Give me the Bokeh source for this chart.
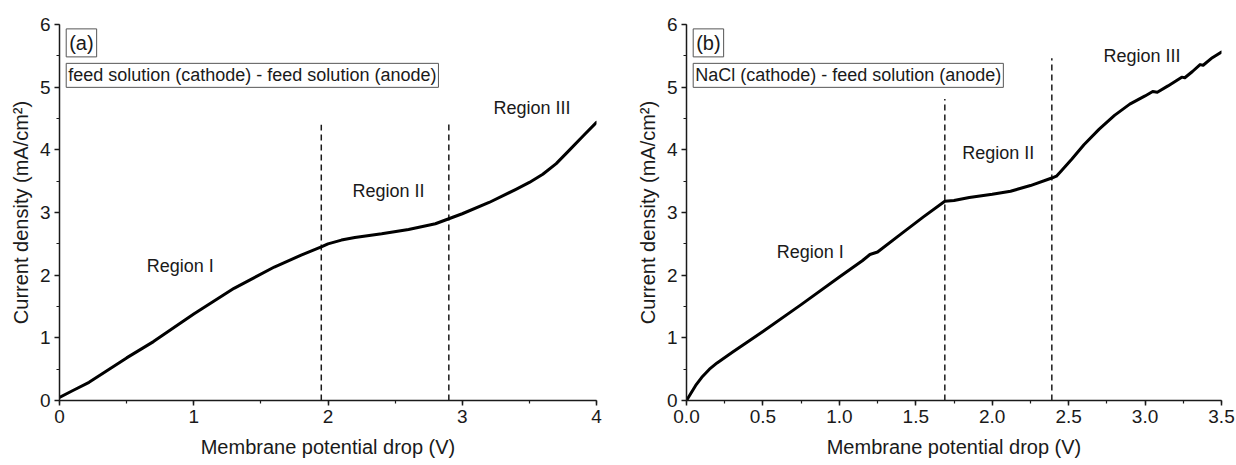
from bokeh.plotting import figure
from bokeh.layouts import row
from bokeh.models import Label, SingleIntervalTicker, NumeralTickFormatter, Range1d
from bokeh.embed import file_html
from bokeh.resources import INLINE

FONT = "Liberation Sans"
INK = "#1a1a1a"

# (a) feed solution (cathode) - feed solution (anode)
volt_a = [0.0, 0.1, 0.22, 0.35, 0.5, 0.7, 1.0, 1.3, 1.6, 1.8, 1.95, 2.0, 2.1, 2.2, 2.4,
          2.6, 2.8, 2.9, 3.0, 3.2, 3.4, 3.5, 3.6, 3.7, 3.8, 3.9, 4.0]
current_a = [0.05, 0.16, 0.29, 0.47, 0.68, 0.94, 1.38, 1.79, 2.13, 2.32, 2.45, 2.50, 2.56, 2.6, 2.66,
             2.73, 2.82, 2.9, 2.98, 3.16, 3.37, 3.48, 3.61, 3.78, 4.0, 4.22, 4.44]
bounds_a = [1.95, 2.90]
bound_tops_a = [4.40, 4.47]
regions_a = ["Region I", "Region II", "Region III"]
region_x_a = [0.90, 2.45, 3.52]
region_y_a = [2.15, 3.34, 4.66]

# (b) NaCl (cathode) - feed solution (anode)
volt_b = [0.0, 0.03, 0.06, 0.1, 0.15, 0.2, 0.3, 0.5, 0.75, 1.0, 1.15, 1.2, 1.25, 1.4, 1.55,
          1.69, 1.75, 1.85, 2.0, 2.12, 2.25, 2.39, 2.42, 2.45, 2.52, 2.6, 2.7, 2.8, 2.9, 3.0,
          3.05, 3.08, 3.15, 3.24, 3.26, 3.31, 3.36, 3.38, 3.44, 3.5]
current_b = [0.0, 0.12, 0.24, 0.37, 0.5, 0.6, 0.77, 1.1, 1.53, 1.97, 2.23, 2.33, 2.37, 2.65, 2.93,
             3.18, 3.19, 3.24, 3.29, 3.34, 3.43, 3.55, 3.58, 3.66, 3.85, 4.08, 4.33, 4.55, 4.73, 4.86,
             4.93, 4.92, 5.02, 5.16, 5.15, 5.25, 5.36, 5.35, 5.47, 5.56]
bounds_b = [1.69, 2.39]
bound_tops_b = [4.81, 5.46]
regions_b = ["Region I", "Region II", "Region III"]
region_x_b = [0.81, 2.04, 2.98]
region_y_b = [2.37, 3.95, 5.49]


def panel(volt, current, bounds, tops, regions, rx, ry, xmax, xstep, xfmt,
          tag, caption, frame_w, border_r):
    p = figure(frame_width=frame_w, frame_height=376,
               min_border_left=59, min_border_right=border_r,
               min_border_top=24, min_border_bottom=65,
               x_range=Range1d(0, xmax), y_range=Range1d(0, 6),
               output_backend="svg", toolbar_location=None)
    p.outline_line_color = None
    p.grid.visible = False
    p.background_fill_color = "white"

    p.xaxis.ticker = SingleIntervalTicker(interval=xstep, num_minor_ticks=2)
    p.yaxis.ticker = SingleIntervalTicker(interval=1, num_minor_ticks=2)
    p.xaxis.formatter = NumeralTickFormatter(format=xfmt)
    p.yaxis.formatter = NumeralTickFormatter(format="0")
    for ax in (p.xaxis[0], p.yaxis[0]):
        ax.axis_line_color = INK
        ax.axis_line_width = 1.5
        ax.major_tick_line_color = INK
        ax.major_tick_line_width = 1.5
        ax.minor_tick_line_color = INK
        ax.minor_tick_line_width = 1.2
        ax.major_tick_in = 0
        ax.major_tick_out = 5
        ax.minor_tick_in = 0
        ax.minor_tick_out = 3
        ax.major_label_text_font = FONT
        ax.major_label_text_font_size = "19px"
        ax.major_label_text_color = INK
        ax.axis_label_text_font = FONT
        ax.axis_label_text_font_size = "20px"
        ax.axis_label_text_font_style = "normal"
        ax.axis_label_text_color = INK
        ax.major_label_standoff = 4
    p.xaxis.axis_label = "Membrane potential drop (V)"
    p.xaxis.axis_label_standoff = 10
    p.yaxis.axis_label = "Current density (mA/cm²)"
    p.yaxis.axis_label_standoff = 5

    # boundaries between the three regions
    p.segment(x0=bounds, y0=[0, 0], x1=bounds, y1=tops,
              line_color=INK, line_width=1.5, line_dash="6 4")
    # current-voltage curve
    p.line(volt, current, line_color="black", line_width=3,
           line_join="round", line_cap="round")

    for name, x, y in zip(regions, rx, ry):
        p.add_layout(Label(x=x, y=y, text=name, text_font=FONT,
                           text_font_size="18px", text_color=INK,
                           text_align="center", text_baseline="middle"))

    p.add_layout(Label(x=0.05 * (xmax / 4), y=5.93, text=tag,
                       text_font=FONT, text_font_size="20px", text_color=INK,
                       text_align="left", text_baseline="top",
                       border_line_color="#555555", border_line_width=1,
                       background_fill_color="white", padding=3))
    p.add_layout(Label(x=0.05 * (xmax / 4), y=5.38, text=caption,
                       text_font=FONT, text_font_size="18px", text_color=INK,
                       text_align="left", text_baseline="top",
                       border_line_color="#555555", border_line_width=1,
                       background_fill_color="white", padding=2))
    return p


left = panel(volt_a, current_a, bounds_a, bound_tops_a, regions_a, region_x_a, region_y_a,
             4, 1, "0", "(a)", "feed solution (cathode) - feed solution (anode)", 537, 31)
right = panel(volt_b, current_b, bounds_b, bound_tops_b, regions_b, region_x_b, region_y_b,
              3.5, 0.5, "0.0", "(b)", "NaCl (cathode) - feed solution (anode)", 535, 15)

layout = row(left, right)
open("out.html", "w").write(file_html(layout, INLINE))
